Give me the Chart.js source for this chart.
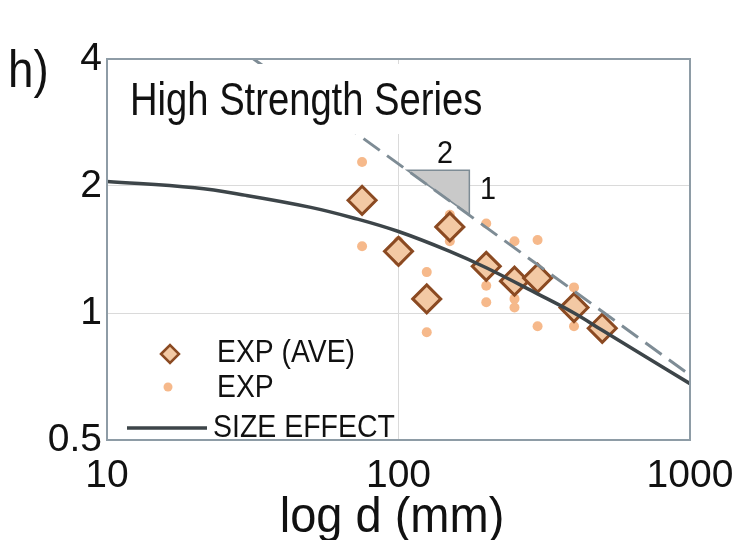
<!DOCTYPE html>
<html lang="en">
<head>
    <meta charset="UTF-8">
    <title>High Strength Series</title>
    <script src="https://cdn.jsdelivr.net/npm/chart.js"></script>
    <style>
        body {
            margin: 0;
            background: #ffffff;
        }

        .chart-box {
            width: 741px;
            height: 540px;
        }
    </style>
</head>
<body>
    <div class="chart-box">
        <canvas id="sizeChart"></canvas>
    </div>

    <script>
        // averaged tests (diamonds)
        const aveD = [75, 100, 125, 150, 200, 250, 300, 400, 500];
        const aveS = [1.85, 1.40, 1.08, 1.60, 1.29, 1.19, 1.21, 1.03, 0.92];

        // single tests (dots)
        const expD = [75, 75, 100, 100, 125, 125, 150, 150, 200, 200, 200, 250, 250, 250, 300, 300, 400, 400];
        const expS = [2.28, 1.44, 1.48, 1.33, 1.25, 0.90, 1.71, 1.48, 1.63, 1.16, 1.06, 1.48, 1.08, 1.03, 1.49, 0.93, 1.15, 0.93];

        // size effect curve
        const curveD = [10, 20, 30, 50, 70, 100, 150, 200, 300, 400, 500, 700, 1000];
        const curveS = [2.05, 1.98, 1.90, 1.78, 1.68, 1.56, 1.40, 1.28, 1.11, 1.00, 0.91, 0.79, 0.68];

        // slope -1/2 reference line and its triangle
        const slopeD = [30, 1000];
        const slopeS = [4.12, 0.713];
        const triD = [107, 175, 175];
        const triS = [2.18, 2.18, 1.71];

        const xTicks = [10, 100, 1000];
        const yTicks = [0.5, 1, 2, 4];

        const FONT = "'Liberation Sans', Arial, sans-serif";
        const toXY = (xs, ys) => xs.map((v, i) => ({ x: v, y: ys[i] }));

        function squeezeText(ctx, text, x, y, size, sx, align, base) {
            ctx.save();
            ctx.font = size + 'px ' + FONT;
            ctx.fillStyle = '#111';
            ctx.textAlign = align || 'left';
            ctx.textBaseline = base || 'alphabetic';
            ctx.translate(x, y);
            ctx.scale(sx, 1);
            ctx.fillText(text, 0, 0);
            ctx.restore();
        }

        function diamond(ctx, x, y, r, fill, stroke, lw) {
            ctx.beginPath();
            ctx.moveTo(x - r, y);
            ctx.lineTo(x, y - r);
            ctx.lineTo(x + r, y);
            ctx.lineTo(x, y + r);
            ctx.closePath();
            ctx.fillStyle = fill;
            ctx.fill();
            ctx.lineWidth = lw;
            ctx.strokeStyle = stroke;
            ctx.stroke();
        }

        const decorations = {
            id: 'decorations',
            beforeDatasetsDraw(chart) {
                const { ctx, scales } = chart;
                // slope triangle
                ctx.save();
                ctx.beginPath();
                triD.forEach((d, i) => {
                    const px = scales.x.getPixelForValue(d);
                    const py = scales.y.getPixelForValue(triS[i]);
                    if (i === 0) ctx.moveTo(px, py); else ctx.lineTo(px, py);
                });
                ctx.closePath();
                ctx.fillStyle = '#c9c9c9';
                ctx.fill();
                ctx.lineWidth = 1.5;
                ctx.strokeStyle = '#7e8c95';
                ctx.stroke();
                ctx.restore();
            },
            afterDatasetsDraw(chart) {
                const { ctx, chartArea: a } = chart;
                ctx.save();
                // box behind the title
                ctx.fillStyle = '#ffffff';
                ctx.fillRect(115, 64, 380, 70);
                // frame
                ctx.lineWidth = 2;
                ctx.strokeStyle = '#8e9ca6';
                ctx.strokeRect(a.left, a.top, a.right - a.left, a.bottom - a.top);
                ctx.restore();

                squeezeText(ctx, 'High Strength Series', 130, 115, 46, 0.83);
                squeezeText(ctx, 'h)', 8, 87, 52, 0.88);
                squeezeText(ctx, '2', 445, 154, 32, 0.9, 'center', 'middle');
                squeezeText(ctx, '1', 488, 190, 32, 0.9, 'center', 'middle');
                squeezeText(ctx, 'log d (mm)', 392, 532, 50, 0.94, 'center');

                // legend
                diamond(ctx, 170, 354, 9, '#f3c9a4', '#8b4a22', 2.5);
                ctx.beginPath();
                ctx.arc(168, 387, 4.5, 0, Math.PI * 2);
                ctx.fillStyle = '#f6b98b';
                ctx.fill();
                ctx.beginPath();
                ctx.moveTo(127, 428);
                ctx.lineTo(207, 428);
                ctx.lineWidth = 3.5;
                ctx.strokeStyle = '#3d4549';
                ctx.stroke();
                squeezeText(ctx, 'EXP (AVE)', 217, 353, 32, 0.885, 'left', 'middle');
                squeezeText(ctx, 'EXP', 217, 388, 32, 0.885, 'left', 'middle');
                squeezeText(ctx, 'SIZE EFFECT', 213, 428, 32, 0.89, 'left', 'middle');
            }
        };

        new Chart(document.getElementById('sizeChart'), {
            type: 'scatter',
            data: {
                datasets: [
                    {
                        label: 'slope',
                        data: toXY(slopeD, slopeS),
                        showLine: true,
                        pointRadius: 0,
                        borderColor: '#7e8c95',
                        borderWidth: 3,
                        borderDash: [20, 9]
                    },
                    {
                        label: 'SIZE EFFECT',
                        data: toXY(curveD, curveS),
                        showLine: true,
                        pointRadius: 0,
                        borderColor: '#3d4549',
                        borderWidth: 3.5,
                        tension: 0.4
                    },
                    {
                        label: 'EXP (AVE)',
                        data: toXY(aveD, aveS),
                        pointStyle: 'rectRot',
                        pointRadius: 14,
                        backgroundColor: '#f3c9a4',
                        borderColor: '#8b4a22',
                        borderWidth: 3
                    },
                    {
                        label: 'EXP',
                        data: toXY(expD, expS),
                        pointRadius: 5,
                        backgroundColor: '#f6b98b',
                        borderWidth: 0
                    }
                ]
            },
            options: {
                responsive: true,
                maintainAspectRatio: false,
                animation: false,
                layout: { padding: { top: 59, right: 51, left: 0, bottom: 0 } },
                plugins: { legend: { display: false }, tooltip: { enabled: false } },
                scales: {
                    x: {
                        type: 'logarithmic',
                        min: 10,
                        max: 1000,
                        afterBuildTicks: s => { s.ticks = xTicks.map(v => ({ value: v })); },
                        afterFit: s => {
                            s.height = 100;
                            s.paddingLeft = 0;
                            s.paddingRight = 0;
                        },
                        grid: { color: '#dadada', lineWidth: 1, drawTicks: false, tickLength: 0 },
                        border: { display: false },
                        ticks: {
                            color: '#111',
                            padding: 13,
                            maxRotation: 0,
                            font: { family: FONT, size: 39 },
                            callback: v => String(v)
                        }
                    },
                    y: {
                        type: 'logarithmic',
                        min: 0.5,
                        max: 4,
                        afterBuildTicks: s => { s.ticks = yTicks.map(v => ({ value: v })); },
                        afterFit: s => {
                            s.width = 107;
                            s.paddingTop = 0;
                            s.paddingBottom = 0;
                        },
                        grid: { color: '#dadada', lineWidth: 1, drawTicks: false, tickLength: 0 },
                        border: { display: false },
                        ticks: {
                            color: '#111',
                            padding: 5,
                            font: { family: FONT, size: 39 },
                            callback: v => String(v)
                        }
                    }
                }
            },
            plugins: [decorations]
        });
    </script>
</body>
</html>
